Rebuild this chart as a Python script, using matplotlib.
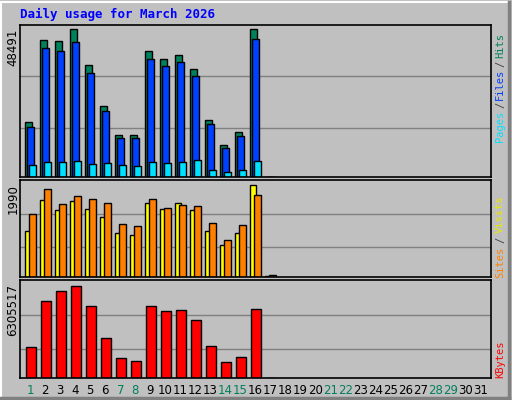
import matplotlib
matplotlib.use('Agg')
import matplotlib.pyplot as plt
import numpy as np

days = np.arange(1, 18)
hits = [18145, 44866, 44536, 48491, 36618, 23423, 13856, 13856, 41237, 38598,
        39917, 35298, 18804, 10557, 14845, 48480, 150]
files = [16500, 42240, 41250, 44220, 33990, 21780, 12870, 12870, 38610, 36300,
         37620, 33000, 17490, 9570, 13530, 45210, 150]
pages = [3960, 4950, 4950, 5280, 4290, 4620, 3960, 3630, 4950, 4620,
         4950, 5610, 2310, 1650, 2310, 5280, 150]
visits = [995, 1666, 1449, 1644, 1471, 1298, 952, 908, 1601, 1471,
          1601, 1449, 995, 692, 952, 1990, 20]
sites = [1363, 1903, 1579, 1752, 1687, 1601, 1146, 1103, 1687, 1492,
         1557, 1536, 1168, 800, 1125, 1774, 40]
kbytes = [2148000, 5266000, 5959000, 6305517, 4920000, 2772000, 1386000, 1178000,
          4920000, 4573000, 4643000, 3950000, 2217000, 1109000, 1455000, 4712000, 30000]
weekend = [1, 7, 8, 14, 15, 21, 22, 28, 29]

W, H = 512, 400
bg = '#c0c0c0'
fig = plt.figure(figsize=(5.12, 4.0), dpi=100, facecolor=bg)

def px_axes(x0, y0, x1, y1):
    return fig.add_axes([x0 / W, 1 - y1 / H, (x1 - x0) / W, (y1 - y0) / H])

def setup(ax, top):
    ax.set_facecolor(bg)
    ax.set_xlim(1 - 5 / 15, 1 - 5 / 15 + 471 / 15)
    ax.set_ylim(0, top)
    ax.set_xticks([])
    ax.set_yticks([])
    for s in ax.spines.values():
        s.set_color('black')
        s.set_linewidth(1.2)

# outer bevel
fig.add_artist(plt.Rectangle((1 / W, 1 / H), 508 / W, 397 / H, transform=fig.transFigure,
                             fill=False, edgecolor='white', lw=1.5))
fig.add_artist(plt.Line2D([1 / W, 509 / W], [2 / H, 2 / H], color='#808080', lw=2.5))
fig.add_artist(plt.Line2D([509 / W, 509 / W], [2 / H, 398 / H], color='#808080', lw=2.5))

w = 7 / 15
ek = dict(edgecolor='black', linewidth=1, align='edge')

ax1 = px_axes(20, 25, 491, 177)
mx = max(hits)
setup(ax1, mx * 151 / 147)
for g in (mx / 3, mx * 0.68):
    ax1.axhline(g, color='#808080', lw=1, zorder=0)
ax1.bar(days, hits, w, color='#00805c', **ek)
ax1.bar(days + 2 / 15, files, w, color='#0040ff', **ek)
ax1.bar(days + 4 / 15, pages, w, color='#00e0ff', **ek)

ax2 = px_axes(20, 180, 491, 277)
mx = max(visits)
setup(ax2, mx * 97 / 92)
for g in (mx * 0.33, mx * 0.68):
    ax2.axhline(g, color='#808080', lw=1, zorder=0)
ax2.bar(days, visits, 6 / 15, color='#ffff00', **ek)
ax2.bar(days + 4 / 15, sites, w, color='#ff8000', **ek)

ax3 = px_axes(20, 280, 491, 378)
mx = max(kbytes)
setup(ax3, mx * 97 / 91)
for g in (mx * 0.32, mx * 0.68):
    ax3.axhline(g, color='#808080', lw=1, zorder=0)
ax3.bar(days + 1 / 15, kbytes, 10 / 15, color='#ff0000', **ek)

all_days = np.arange(1, 32)
ax3.set_xticks(all_days + 0.35)
ax3.set_xticklabels([str(d) for d in all_days], fontsize=8.5)
ax3.tick_params(axis='x', length=0, pad=4)
for lab, d in zip(ax3.get_xticklabels(), all_days):
    lab.set_color('#00805c' if d in weekend else 'black')

fig.text(20 / W, 1 - 14 / H, 'Daily usage for March 2026', color='#0000ff',
         family='DejaVu Sans Mono', weight='bold', fontsize=9, va='center')
for y, s in ((29, str(max(hits))), (184, str(max(visits))), (284, str(max(kbytes)))):
    fig.text(13 / W, 1 - y / H, s, rotation=90, ha='center', va='top', fontsize=8.5)

right = [(45, 'Hits', '#00805c'), (64, '/', '#404040'), (84, 'Files', '#0040ff'),
         (105, '/', '#404040'), (126, 'Pages', '#00e0ff'),
         (214, 'Visits', '#e8e800'), (240, '/', '#404040'), (262, 'Sites', '#ff8000'),
         (359, 'KBytes', '#ff0000')]
for y, s, c in right:
    fig.text(500 / W, 1 - y / H, s, rotation=90, ha='center', va='center', color=c,
             family='DejaVu Sans Mono', fontsize=7.5)

fig.savefig('out.png', dpi=100, facecolor=bg)
